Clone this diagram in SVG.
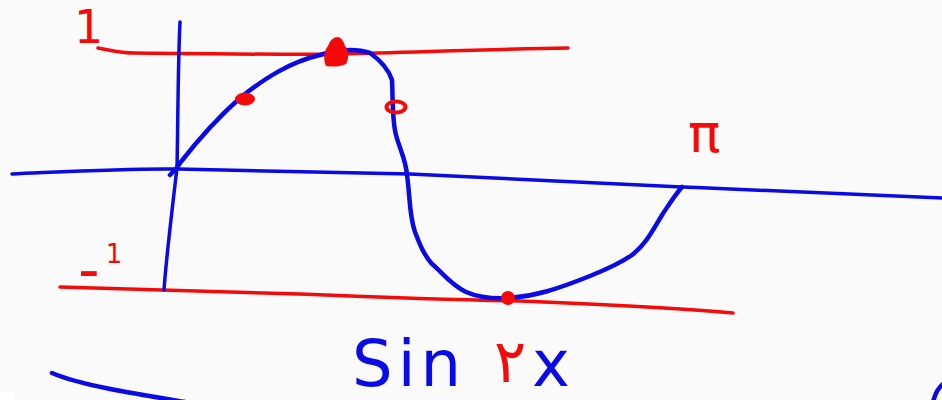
<svg xmlns="http://www.w3.org/2000/svg" width="942" height="400" viewBox="0 0 942 400">
<style>
.b{fill:none;stroke:#0a0ae6;stroke-linecap:round;stroke-linejoin:round}
.r{fill:none;stroke:#f50a0a;stroke-linecap:round;stroke-linejoin:round}
.rt{fill:#f50a0a;font-family:"DejaVu Sans","Noto Sans",sans-serif}
.bt{fill:#0a0ae6;font-family:"DejaVu Sans","Noto Sans",sans-serif}
</style>
<rect width="942" height="400" fill="#fafafa"/>
<rect x="0" y="392" width="15" height="8" fill="#ffffff"/>
<g id="axes">
<path class="r" stroke-width="3.5" d="M98,48 C110,50 120,53 135,53 C250,54 300,55 340,54 C420,52 500,49 568,48"/>
<path class="r" stroke-width="3.5" d="M60,287 C120,289 200,291 300,294 C400,298 460,300 520,301 C620,305 690,309 733,313"/>
<path class="b" stroke-width="3.5" d="M180,22 C178,60 178,120 177,168 C172,210 166,260 164,290"/>
<path class="b" stroke-width="3.5" d="M12,174 C60,172 130,168 178,169 C250,170 330,172 410,174 C520,179 620,184 682,187 C780,191 880,195 942,198"/>
</g>
<g id="curve">
<path class="b" stroke-width="4.5" d="M170,175 C175,170 178,167 180,163 C198,140 215,120 240,98 C265,78 290,62 320,55 C335,50 355,48 370,53 C380,60 388,68 392,80 C393,100 392,120 396,135 C400,150 406,160 407,175 C410,195 409,215 415,232 C420,245 424,255 432,264 C442,272 450,284 466,292 C480,298 495,299 510,298 C535,296 555,290 590,276 C610,268 622,262 632,255 C645,245 652,232 662,215 C670,203 675,195 682,187"/>
</g>
<g id="points">
<ellipse cx="245" cy="99" rx="10" ry="6.5" fill="#f50a0a"/>
<path d="M326,66 C323,60 324,50 328,46 C330,40 334,37 338,37 C342,38 344,42 345,46 C349,50 349,60 346,64 C340,67 332,67 326,66 Z" fill="#f50a0a"/>
<ellipse cx="396" cy="107" rx="9.5" ry="5.5" class="r" stroke-width="4"/>
<circle cx="508" cy="298" r="7" fill="#f50a0a"/>
</g>
<g id="labels">
<text class="rt" x="74" y="43" font-size="46">1</text>
<text class="rt" x="78" y="290" font-size="60"><tspan>-</tspan><tspan font-size="26" dx="6" dy="-27">1</tspan></text>
<text class="rt" x="688" y="152" font-size="54">π</text>
<text class="bt" x="352" y="386" font-size="64" letter-spacing="5">Sin</text>
<text class="rt" x="494" y="382" font-size="60">۲</text>
<text class="bt" x="532" y="386" font-size="64">x</text>
</g>
<g id="strokes">
<path class="b" stroke-width="4.5" d="M52,373 C80,385 130,393 185,402"/>
<path class="b" stroke-width="4.5" d="M933,402 C935,394 938,388 943,384"/>
</g>
</svg>
